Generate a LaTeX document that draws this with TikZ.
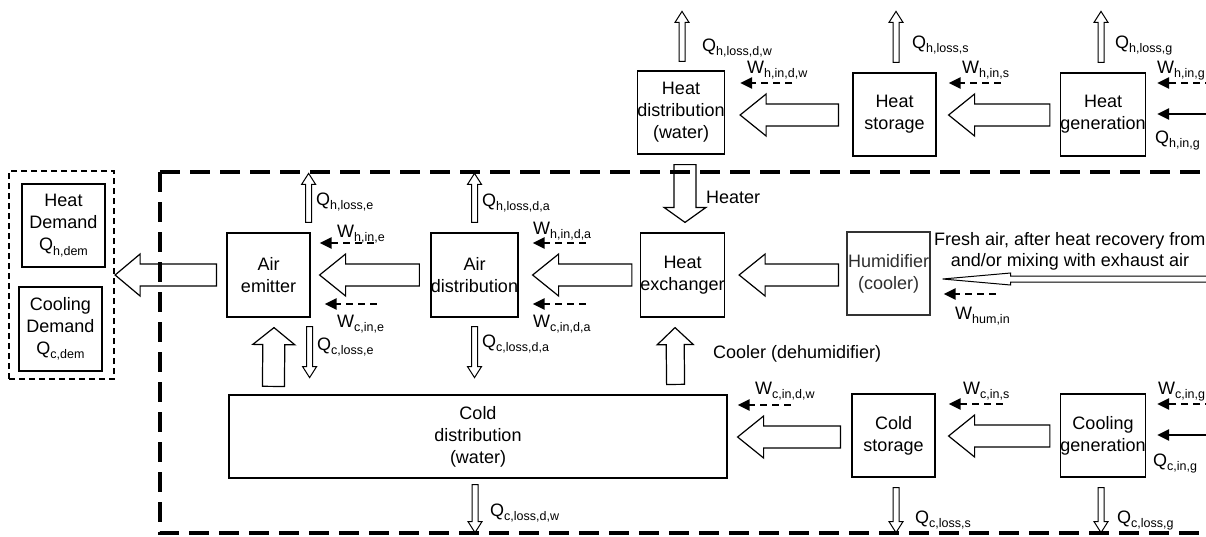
\documentclass[tikz,border=0pt]{standalone}
\usepackage{fontspec}
\setmainfont{Liberation Sans}
\usetikzlibrary{calc,arrows.meta}
\newcommand\sub[1]{\raisebox{-4.5pt}{\fontsize{12.5}{12.5}\selectfont #1}}
% block arrow: [style]{tail}{tip}{shaft half}{head half}{head length}
\newcommand\barrow[6][barr]{%
  \path[#1] let \p1=(#2), \p2=(#3), \n1={atan2(\y1-\y2,\x1-\x2)}, \n2={veclen(\x1-\x2,\y1-\y2)} in
  [shift={(\p2)},rotate=\n1] (0pt,0pt) -- (#6pt,#5pt) -- (#6pt,#4pt) -- ({\n2*1pt},#4pt) -- ({\n2*1pt},-#4pt) -- (#6pt,-#4pt) -- (#6pt,-#5pt) -- cycle;}
\begin{document}
\begin{tikzpicture}[x=1pt,y=-1pt,font=\fontsize{18}{22}\selectfont,
  box/.style={draw,line width=1.2pt,inner sep=0pt,align=center},
  barr/.style={draw,fill=white,line width=1.2pt,line join=miter},
  larr/.style={draw,fill=white,line width=1pt},
  warr/.style={line width=2.3pt,dash pattern=on 7pt off 5pt,-{Triangle[length=12pt,width=11pt]}},
  qarr/.style={line width=2.3pt,-{Triangle[length=12pt,width=11pt]}},
  lbl/.style={anchor=base west,inner sep=0pt}]
\useasboundingbox (0,0) rectangle (1206,536);
\clip (0,0) rectangle (1206,536);

% demand boxes
\node[box,minimum width=83pt,minimum height=83pt] (heatdem) at (63.5,225.5) {Heat\\Demand\\Q\sub{h,dem}};
\node[box,minimum width=83pt,minimum height=84pt] (cooldem) at (60.5,329) {Cooling\\Demand\\Q\sub{c,dem}};
\node[draw,line width=2.2pt,dash pattern=on 6pt off 4pt,minimum width=105pt,minimum height=208pt,inner sep=0pt] (dem) at (61.5,275) {};

% middle row
\node[box,minimum width=83pt,minimum height=84pt] (emit) at (268.5,275) {Air\\emitter};
\node[box,minimum width=83pt,minimum height=84pt] (adist) at (474.5,275) {Air\\distribution};
\node[box,minimum width=83pt,minimum height=84pt] (hx) at (682.5,275) {Heat\\exchanger};
\node[box,draw=black!80,text=black!82,minimum width=83pt,minimum height=83pt] (hum) at (888.5,273.5) {Humidifier\\(cooler)};

% top row
\node[box,minimum width=80pt,minimum height=83pt] (hdist) at (681,112.5) {Heat\\distribution\\(water)};
\node[box,minimum width=83pt,minimum height=83pt] (hstor) at (894.5,114.5) {Heat\\storage};
\node[box,minimum width=82pt,minimum height=83pt] (hgen) at (1103,114.5) {Heat\\generation};

% bottom row
\node[box,minimum width=498pt,minimum height=83pt] (cdist) at (478,436.5) {Cold\\distribution\\(water)};
\node[box,minimum width=83pt,minimum height=83pt] (cstor) at (893.5,435.5) {Cold\\storage};
\node[box,minimum width=82pt,minimum height=83pt] (cgen) at (1103,435.5) {Cooling\\generation};

% horizontal block arrows
\barrow{$(emit.west)+(-10,0)$}{dem.east}{11}{21}{25}
\barrow{$(adist.west)+(-11,0)$}{$(emit.east)+(9,0)$}{11}{21}{26}
\barrow{$(hx.west)+(-8,0)$}{$(adist.east)+(14,0)$}{11}{21}{26}
\barrow{$(hum.west)+(-8,1.5)$}{$(hx.east)+(14,0)$}{11}{21}{26}
\barrow{$(hstor.west)+(-14,0.5)$}{$(hdist.east)+(15,2.5)$}{11}{21}{26}
\barrow{$(hgen.west)+(-10,0.5)$}{$(hstor.east)+(12,0.5)$}{11}{21}{26}
\barrow{$(cstor.west)+(-11,1.5)$}{$(cdist.east)+(10,0.5)$}{11}{21}{26}
\barrow{$(cgen.west)+(-10,0.5)$}{$(cstor.east)+(13,0.5)$}{11}{21}{26}

% vertical block arrows
\barrow{$(cdist.north west)+(45,-8)$}{$(emit.south)+(5.5,10)$}{11}{21}{17}
\barrow{$(cdist.north east)+(-52,-10)$}{$(hx.south)+(-7.5,10)$}{9}{18}{17}
\barrow{$(hdist.south)+(4,10)$}{$(hx.north)+(2.5,-10)$}{11}{21}{15}

% thin loss arrows
\barrow[larr]{$(emit.north east)+(-2,-10)$}{$(emit.north east)+(-2,-59)$}{3}{7}{11}
\barrow[larr]{$(adist.north)+(0,-10)$}{$(adist.north)+(0,-59)$}{3}{7}{11}
\barrow[larr]{$(emit.south east)+(-1,9)$}{$(emit.south east)+(-1,60)$}{3}{7}{11}
\barrow[larr]{$(adist.south)+(0,9)$}{$(adist.south)+(0,60)$}{3}{7}{11}
\barrow[larr]{$(hdist.north)+(1,-9)$}{$(hdist.north)+(1,-59)$}{3}{7}{11}
\barrow[larr]{$(hstor.north)+(1.5,-10)$}{$(hstor.north)+(1.5,-61)$}{3}{7}{11}
\barrow[larr]{$(hgen.north)+(-2,-10)$}{$(hgen.north)+(-2,-61)$}{3}{7}{11}
\barrow[larr]{$(cdist.south)+(-3,6)$}{$(cdist.south)+(-3,54)$}{3}{7}{11}
\barrow[larr]{$(cstor.south)+(2.5,10)$}{$(cstor.south)+(2.5,55)$}{3}{7}{11}
\barrow[larr]{$(cgen.south)+(-2,10)$}{$(cgen.south)+(-2,55)$}{3}{7}{11}

% fresh air arrow
\coordinate (fresh) at (1215,279);
\barrow[larr]{fresh}{$(hum.east)+(12,5.5)$}{3}{6}{68}

% dashed energy input arrows
\draw[warr] ($(emit.east)+(63,-32)$) -- ($(emit.east)+(9,-32)$);
\draw[warr] ($(emit.east)+(66,29)$) -- ($(emit.east)+(14,29)$);
\draw[warr] ($(adist.east)+(67,-32)$) -- ($(adist.east)+(14,-32)$);
\draw[warr] ($(adist.east)+(67,29)$) -- ($(adist.east)+(14,29)$);
\draw[warr] ($(hdist.east)+(67,-29.5)$) -- ($(hdist.east)+(15,-29.5)$);
\draw[warr] ($(hstor.east)+(64,-31.5)$) -- ($(hstor.east)+(12,-31.5)$);
\draw[warr] ($(hgen.east)+(66,-31.5)$) -- ($(hgen.east)+(11,-31.5)$);
\draw[qarr] ($(hgen.east)+(66,-0.5)$) -- ($(hgen.east)+(11,-0.5)$);
\draw[warr] ($(hum.east)+(65,20.5)$) -- ($(hum.east)+(13,20.5)$);
\draw[warr] ($(cdist.east)+(63,-31.5)$) -- ($(cdist.east)+(10,-31.5)$);
\draw[warr] ($(cstor.east)+(67,-31.5)$) -- ($(cstor.east)+(13,-31.5)$);
\draw[warr] ($(cgen.east)+(66,-31.5)$) -- ($(cgen.east)+(11,-31.5)$);
\draw[qarr] ($(cgen.east)+(66,-0.5)$) -- ($(cgen.east)+(11,-0.5)$);

% labels
\node[lbl] (lqhle) at (316,205) {Q\sub{h,loss,e}};
\node[lbl] (lwhie) at (337,237) {W\sub{h,in,e}};
\node[lbl] (lwcie) at (337,327) {W\sub{c,in,e}};
\node[lbl] (lqcle) at (317,350) {Q\sub{c,loss,e}};
\node[lbl] (lqhlda) at (482,206) {Q\sub{h,loss,d,a}};
\node[lbl] (lwhida) at (533,234) {W\sub{h,in,d,a}};
\node[lbl] (lwcida) at (533,327) {W\sub{c,in,d,a}};
\node[lbl] (lqclda) at (482,347) {Q\sub{c,loss,d,a}};
\node[lbl] (lheater) at (706,203) {Heater};
\node[lbl] (lcooler) at (713,358) {Cooler (dehumidifier)};
\node[lbl] (lqhldw) at (702,51) {Q\sub{h,loss,d,w}};
\node[lbl] (lwhidw) at (747,73) {W\sub{h,in,d,w}};
\node[lbl] (lqhls) at (912,48) {Q\sub{h,loss,s}};
\node[lbl] (lwhis) at (962,73) {W\sub{h,in,s}};
\node[lbl] (lqhlg) at (1115,48) {Q\sub{h,loss,g}};
\node[lbl] (lwhig) at (1157,73) {W\sub{h,in,g}};
\node[lbl] (lqhig) at (1155,143) {Q\sub{h,in,g}};
\node[lbl] (lwhum) at (955,319) {W\sub{hum,in}};
\node[lbl] (lwcidw) at (755,394) {W\sub{c,in,d,w}};
\node[lbl] (lwcis) at (963,394) {W\sub{c,in,s}};
\node[lbl] (lwcig) at (1158,394) {W\sub{c,in,g}};
\node[lbl] (lqcig) at (1153,466) {Q\sub{c,in,g}};
\node[lbl] (lqcls) at (915,523) {Q\sub{c,loss,s}};
\node[lbl] (lqclg) at (1117,523) {Q\sub{c,loss,g}};
\node[lbl] (lqcldw) at (490,516) {Q\sub{c,loss,d,w}};
\node[lbl] (lfresh1) at (934,245) {Fresh air, after heat recovery from};
\node[anchor=base,inner sep=0pt] (lfresh2) at (1070,266) {and/or mixing with exhaust air};

% system boundary
\draw[line width=4pt,dash pattern=on 20pt off 10pt] (160,172) -- (1215,172);
\draw[line width=4pt,dash pattern=on 20pt off 10pt] (160,172) -- (160,533) -- (1215,533);
\end{tikzpicture}
\end{document}
